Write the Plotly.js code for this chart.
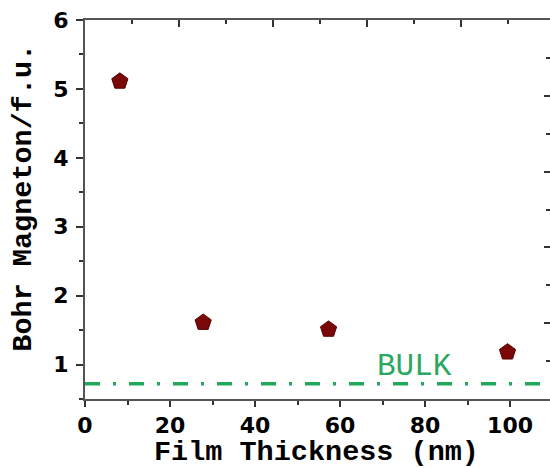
<!DOCTYPE html>
<html>
<head>
<meta charset="utf-8">
<script src="https://cdn.plot.ly/plotly-3.0.1.min.js"></script>
<style>
html,body{margin:0;padding:0;overflow:hidden;background:#fff;}
#chart{width:550px;height:468px;}
</style>
</head>
<body>
<div id="chart"></div>
<script>
// Data
const thickness = [8.2, 27.8, 57.3, 99.4];          // nm
const moment    = [5.11, 1.61, 1.51, 1.18];         // Bohr magneton / f.u.
const bulkX     = [0, 110];
const bulkY     = [0.72, 0.72];
const bulkLabel = "BULK";
const bulkLabelPos = {x: 77.6, y: 0.97};
const xTitle = "Film Thickness (nm)";
const yTitle = "Bohr Magneton/f.u.";

const traces = [
  {
    x: bulkX, y: bulkY, type: 'scatter', mode: 'lines',
    line: {color: '#22a85a', width: 3.5, dash: '15px,13px,3px,13px'},
    hoverinfo: 'skip', showlegend: false
  },
  {
    x: thickness, y: moment, type: 'scatter', mode: 'markers',
    marker: {symbol: 'pentagon', size: 17, color: '#7a0808',
             line: {color: '#5a0000', width: 1}},
    showlegend: false
  },
  // placeholder traces (no marks) so the top / right frame axes get drawn
  {x: [null], y: [null], type: 'scatter', mode: 'markers', xaxis: 'x2', yaxis: 'y', showlegend: false, hoverinfo: 'skip'},
  {x: [null], y: [null], type: 'scatter', mode: 'markers', xaxis: 'x', yaxis: 'y2', showlegend: false, hoverinfo: 'skip'}
];

const tickFont = {family: 'DejaVu Sans', size: 22, color: '#000', weight: 'bold'};
const titleFont = {family: 'Liberation Mono', size: 28.5, color: '#000', weight: 'bold'};

const plotL = 85, plotT = 20, plotB = 398.7, W = 550, H = 468;
const plotW = W - plotL, plotH = plotB - plotT;

const layout = {
  width: W, height: H,
  margin: {l: plotL, r: 0, t: plotT, b: H - plotB},
  paper_bgcolor: '#fff', plot_bgcolor: '#fff',
  showlegend: false,
  xaxis: {
    range: [0, 109.4], dtick: 20, tick0: 0,
    ticks: 'outside', ticklen: 6, tickwidth: 2, tickcolor: '#333',
    minor: {dtick: 10, ticks: 'outside', ticklen: 4, tickwidth: 2, tickcolor: '#333'},
    showline: true, linewidth: 2, linecolor: '#555', mirror: true,
    showgrid: false, zeroline: false,
    tickfont: tickFont, ticklabelstandoff: 0
  },
  yaxis: {
    range: [0.5, 6], dtick: 1, tick0: 0,
    ticks: 'outside', ticklen: 7, tickwidth: 2, tickcolor: '#333',
    minor: {dtick: 0.5, ticks: 'outside', ticklen: 4, tickwidth: 2, tickcolor: '#333'},
    showline: true, linewidth: 2, linecolor: '#555',
    showgrid: false, zeroline: false,
    tickfont: tickFont, ticklabelstandoff: 3
  },
  xaxis2: {
    overlaying: 'x', side: 'top', anchor: 'y', range: [0, 4.947], dtick: 1, tick0: 0,
    ticks: 'inside', ticklen: 7, tickwidth: 2, tickcolor: '#333',
    minor: {dtick: 0.5, ticks: 'inside', ticklen: 4, tickwidth: 2, tickcolor: '#333'},
    showline: true, linewidth: 2, linecolor: '#555',
    showticklabels: false, showgrid: false, zeroline: false
  },
  yaxis2: {
    overlaying: 'y', side: 'right', anchor: 'x', range: [0, 5], dtick: 1, tick0: 0,
    ticks: 'inside', ticklen: 6, tickwidth: 2, tickcolor: '#333',
    minor: {dtick: 0.5, ticks: 'inside', ticklen: 4, tickwidth: 2, tickcolor: '#333'},
    showline: true, linewidth: 2, linecolor: '#555',
    showticklabels: false, showgrid: false, zeroline: false
  },
  annotations: [
    {
      text: bulkLabel, x: bulkLabelPos.x, y: bulkLabelPos.y, xref: 'x', yref: 'y',
      showarrow: false, font: {family: 'Liberation Mono', size: 31, color: '#2aa760'}
    },
    {
      text: yTitle, textangle: -90, xref: 'paper', yref: 'paper',
      x: (24 - plotL) / plotW, y: (plotB - 197.5) / plotH,
      xanchor: 'center', yanchor: 'middle', showarrow: false, font: titleFont
    },
    {
      text: xTitle, xref: 'paper', yref: 'paper',
      x: (316.5 - plotL) / plotW, y: (plotB - 452.5) / plotH,
      xanchor: 'center', yanchor: 'middle', showarrow: false, font: titleFont
    }
  ]
};

Plotly.newPlot('chart', traces, layout, {displayModeBar: false, staticPlot: true});
</script>
</body>
</html>
